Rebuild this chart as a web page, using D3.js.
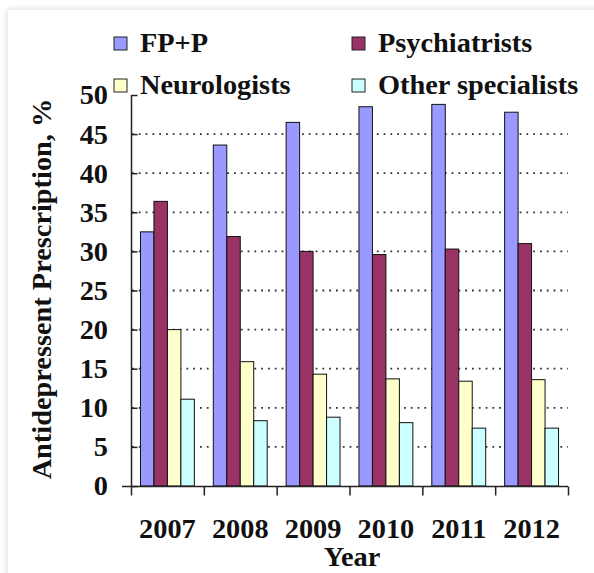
<!DOCTYPE html>
<html>
<head>
    <meta charset="utf-8">
    <script src="https://cdn.jsdelivr.net/npm/d3@7"></script>
    <style>
        body { margin: 0; background-color: #fff; }
        svg { display: block; }
        text { font-family: "Liberation Serif", "Times New Roman", serif; font-weight: bold; fill: #111; }
    </style>
</head>
<body>
<svg width="594" height="573"></svg>

<script>
    const years = ["2007", "2008", "2009", "2010", "2011", "2012"];
    const series = ["FP+P", "Psychiatrists", "Neurologists", "Other specialists"];
    const colors = ["#9999ff", "#993366", "#ffffcc", "#ccffff"];

    const fpp = [32.5, 43.6, 46.5, 48.5, 48.8, 47.8];
    const psychiatrists = [36.4, 31.9, 30.0, 29.6, 30.3, 31.0];
    const neurologists = [20.0, 15.9, 14.3, 13.7, 13.4, 13.6];
    const others = [11.1, 8.35, 8.8, 8.1, 7.4, 7.4];
    const yTicks = [0, 5, 10, 15, 20, 25, 30, 35, 40, 45, 50];

    const values = [fpp, psychiatrists, neurologists, others];
    const fontSize = 27;
    const stretch = 1.05; // the text in the picture is a touch wide

    const svg = d3.select("svg");

    // card with soft shadow
    const defs = svg.append("defs");
    const f = defs.append("filter").attr("id", "shadow")
        .attr("x", "-5%").attr("y", "-5%").attr("width", "110%").attr("height", "110%");
    f.append("feDropShadow").attr("dx", 0).attr("dy", 0)
        .attr("stdDeviation", 3).attr("flood-color", "#000").attr("flood-opacity", 0.18);
    svg.append("rect").attr("x", 8).attr("y", 10).attr("width", 620).attr("height", 600)
        .attr("fill", "#fff").attr("filter", "url(#shadow)");

    const x0 = d3.scaleBand().domain(years).range([131, 568]).paddingInner(0.26).paddingOuter(0.13);
    const x1 = d3.scaleBand().domain(series).range([0, x0.bandwidth()]);
    const xEdge = d3.scaleLinear().domain([0, years.length]).range([131, 568]);
    const y = d3.scaleLinear().domain([0, 50]).range([486, 95]);

    // dotted grid
    svg.append("g").selectAll("line")
        .data(yTicks.filter(d => d > 0 && d < 50))
        .join("line")
        .attr("x1", 132).attr("x2", 568)
        .attr("y1", d => y(d)).attr("y2", d => y(d))
        .attr("stroke", "#333").attr("stroke-width", 1.8)
        .attr("stroke-dasharray", "1.8,5");

    // bars
    const groups = svg.append("g").selectAll("g")
        .data(years)
        .join("g")
        .attr("transform", d => `translate(${x0(d)},0)`);

    groups.selectAll("rect")
        .data((d, i) => series.map((s, k) => ({ s, k, v: values[k][i] })))
        .join("rect")
        .attr("x", d => x1(d.s))
        .attr("width", x1.bandwidth())
        .attr("y", d => y(d.v))
        .attr("height", d => y(0) - y(d.v))
        .attr("fill", d => colors[d.k])
        .attr("stroke", "#111").attr("stroke-width", 1);

    // y axis
    const yAxis = svg.append("g").attr("transform", "translate(131.5,0)")
        .call(d3.axisLeft(y).tickValues(yTicks).tickSize(9).tickFormat(""));
    yAxis.selectAll(".tick line").attr("x2", 6);
    yAxis.select(".domain").remove();
    yAxis.append("line").attr("y1", y(50)).attr("y2", y(0)).attr("stroke", "#222").attr("stroke-width", 1.5);
    yAxis.selectAll("line").attr("stroke", "#222").attr("stroke-width", 1.5);

    svg.append("g").selectAll("text")
        .data(yTicks)
        .join("text")
        .attr("transform", d => `translate(108,${y(d)}) scale(${stretch},1)`)
        .attr("text-anchor", "end")
        .attr("dy", "0.35em")
        .attr("font-size", fontSize)
        .text(d => d);

    // x axis
    const xAxis = svg.append("g").attr("transform", `translate(0,${y(0) + 0.5})`)
        .call(d3.axisBottom(xEdge).tickValues(d3.range(years.length + 1)).tickSize(9).tickFormat("").tickSizeOuter(0));
    xAxis.select(".domain").remove();
    xAxis.append("line").attr("x1", 122).attr("x2", 568).attr("stroke", "#222");
    xAxis.selectAll("line").attr("stroke", "#222").attr("stroke-width", 1.5);

    svg.append("g").selectAll("text")
        .data(years)
        .join("text")
        .attr("transform", d => `translate(${x0(d) + x0.bandwidth() / 2},538) scale(${stretch},1)`)
        .attr("text-anchor", "middle")
        .attr("font-size", fontSize)
        .text(d => d);

    // axis titles
    svg.append("text")
        .attr("transform", `translate(352,566) scale(${stretch},1)`)
        .attr("text-anchor", "middle")
        .attr("font-size", fontSize)
        .text("Year");

    svg.append("text")
        .attr("transform", `translate(51,289) rotate(-90) scale(${stretch},1)`)
        .attr("text-anchor", "middle")
        .attr("font-size", fontSize)
        .text("Antidepressent Prescription, %");

    // legend, two rows by two columns
    const legendPos = [[114, 37], [352, 37], [114, 79], [352, 79]];
    const legend = svg.append("g").selectAll("g")
        .data(series)
        .join("g")
        .attr("transform", (d, i) => `translate(${legendPos[i][0]},${legendPos[i][1]})`);
    legend.append("rect")
        .attr("width", 13).attr("height", 13)
        .attr("fill", (d, i) => colors[i])
        .attr("stroke", "#222").attr("stroke-width", 1);
    legend.append("text")
        .attr("transform", `translate(26,15) scale(${stretch},1)`)
        .attr("font-size", fontSize)
        .text(d => d);
</script>
</body>
</html>
